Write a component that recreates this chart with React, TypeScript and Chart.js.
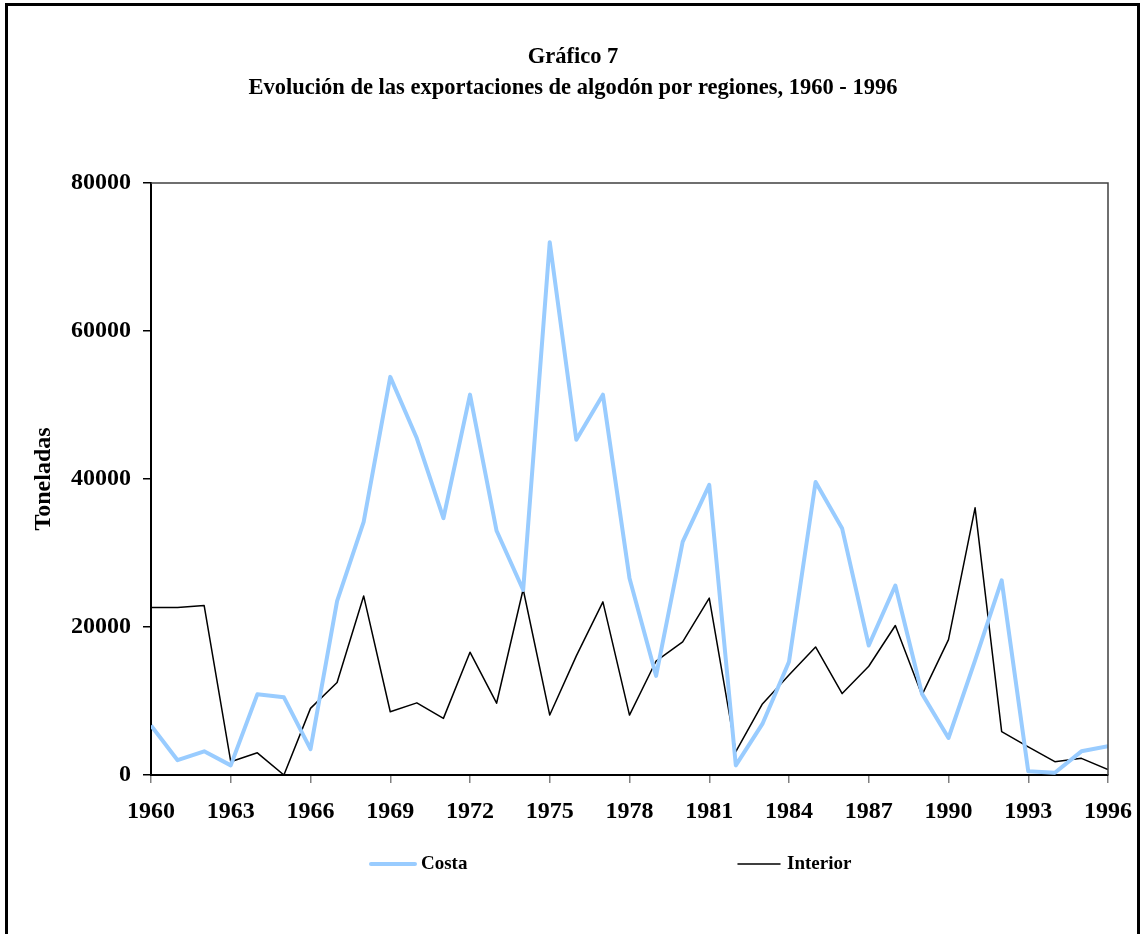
import React, { useEffect, useRef } from "react";
import { Chart, registerables } from "chart.js";

Chart.register(...registerables);

const years = [
  1960, 1961, 1962, 1963, 1964, 1965, 1966, 1967, 1968, 1969,
  1970, 1971, 1972, 1973, 1974, 1975, 1976, 1977, 1978, 1979,
  1980, 1981, 1982, 1983, 1984, 1985, 1986, 1987, 1988, 1989,
  1990, 1991, 1992, 1993, 1994, 1995, 1996,
];
const costa = [
  6700, 2000, 3200, 1300, 10900, 10500, 3500, 23500, 34200, 53800,
  45500, 34700, 51400, 33000, 25000, 72000, 45300, 51400, 26600, 13400,
  31500, 39200, 1300, 6900, 15300, 39600, 33300, 17500, 25600, 11000,
  5000, 15500, 26300, 500, 300, 3200, 3900,
];
const interior = [
  22650, 22650, 22900, 1800, 3000, 0, 9000, 12500, 24200, 8550,
  9750, 7650, 16600, 9700, 25100, 8100, 16100, 23400, 8100, 15400,
  18000, 23900, 3150, 9600, 13500, 17300, 11000, 14700, 20200, 10800,
  18300, 36100, 5850, 3800, 1800, 2250, 750,
];
const seriesNames = ["Costa", "Interior"];
const titleLines = [
  "Gráfico 7",
  "Evolución de las exportaciones de algodón por regiones, 1960 - 1996",
];
const yAxisTitle = "Toneladas";
const yMin = 0;
const yMax = 80000;
const yStep = 20000;
const xStep = 3;

const FONT = "'Liberation Serif', 'Times New Roman', serif";

const decorPlugin = {
  id: "decor",
  afterDraw(chart: any) {
    const ctx = chart.ctx;
    const { left, right, top, bottom } = chart.chartArea;
    ctx.save();
    // outer frame
    ctx.strokeStyle = "#000";
    ctx.lineWidth = 3;
    ctx.strokeRect(6.5, 4.5, 1132, 1000);
    // top and right plot borders
    ctx.strokeStyle = "#404040";
    ctx.lineWidth = 1.5;
    ctx.beginPath();
    ctx.moveTo(left, top);
    ctx.lineTo(right, top);
    ctx.lineTo(right, bottom);
    ctx.stroke();
    // title
    ctx.fillStyle = "#000";
    ctx.textAlign = "center";
    ctx.textBaseline = "middle";
    ctx.font = `bold 22.5px ${FONT}`;
    ctx.fillText(titleLines[0], 573, 57);
    ctx.fillText(titleLines[1], 573, 88);
    // legend
    const items = [
      { x0: 371, x1: 415, tx: 421 },
      { x0: 738, x1: 780, tx: 787 },
    ];
    const ly = 864;
    ctx.font = `bold 19px ${FONT}`;
    ctx.textAlign = "left";
    chart.data.datasets.forEach((ds: any, i: number) => {
      const it = items[i];
      ctx.strokeStyle = ds.borderColor;
      ctx.lineWidth = ds.borderWidth;
      ctx.lineCap = "round";
      ctx.beginPath();
      ctx.moveTo(it.x0, ly);
      ctx.lineTo(it.x1, ly);
      ctx.stroke();
      ctx.fillStyle = "#000";
      ctx.fillText(ds.label, it.tx, ly);
    });
    ctx.restore();
  },
};

export default function App() {
  const ref = useRef<HTMLCanvasElement | null>(null);
  useEffect(() => {
    if (!ref.current) return;
    const tickFont = { family: FONT, size: 24, weight: "bold" as const };
    const chart = new Chart(ref.current, {
      type: "line",
      data: {
        datasets: [
          {
            label: seriesNames[0],
            data: years.map((yr, i) => ({ x: yr, y: costa[i] })),
            borderColor: "#99CCFF",
            borderWidth: 4,
            borderJoinStyle: "round",
            pointRadius: 0,
            tension: 0,
            fill: false,
          },
          {
            label: seriesNames[1],
            data: years.map((yr, i) => ({ x: yr, y: interior[i] })),
            borderColor: "#000000",
            borderWidth: 1.5,
            borderJoinStyle: "round",
            pointRadius: 0,
            tension: 0,
            fill: false,
          },
        ],
      },
      options: {
        responsive: false,
        animation: false,
        devicePixelRatio: 1,
        layout: { padding: { left: 8, right: 36, top: 183, bottom: 99 } },
        plugins: {
          legend: { display: false },
          title: { display: false },
          tooltip: { enabled: false },
        },
        scales: {
          x: {
            type: "linear",
            min: years[0],
            max: years[years.length - 1],
            ticks: {
              stepSize: xStep,
              callback: (v: any) => String(v),
              font: tickFont,
              color: "#000",
              padding: 14,
              maxRotation: 0,
              autoSkip: false,
            },
            grid: {
              drawOnChartArea: false,
              drawTicks: true,
              tickLength: 8,
              color: "#808080",
              lineWidth: 1.5,
            },
            border: { display: true, color: "#000", width: 2 },
            afterFit: (s: any) => {
              s.height = 60;
              s.paddingLeft = 0;
              s.paddingRight = 0;
            },
          },
          y: {
            min: yMin,
            max: yMax,
            ticks: {
              stepSize: yStep,
              callback: (v: any) => String(v),
              font: tickFont,
              color: "#000",
              padding: 12,
            },
            grid: {
              drawOnChartArea: false,
              tickLength: 8,
              color: "#000",
              lineWidth: 1.5,
            },
            border: { display: true, color: "#000", width: 2 },
            title: {
              display: true,
              text: yAxisTitle,
              font: { family: FONT, size: 24, weight: "bold" },
              color: "#000",
              padding: { top: 21, bottom: 0 },
            },
            afterFit: (s: any) => {
              s.width = 143;
              s.paddingTop = 0;
              s.paddingBottom = 0;
            },
          },
        },
      } as any,
      plugins: [decorPlugin],
    });
    return () => chart.destroy();
  }, []);
  return (
    <div style={{ position: "absolute", left: 0, top: 0, width: 1144, height: 934, background: "#fff" }}>
      <canvas ref={ref} width={1144} height={934} style={{ display: "block", width: 1144, height: 934 }} />
    </div>
  );
}
